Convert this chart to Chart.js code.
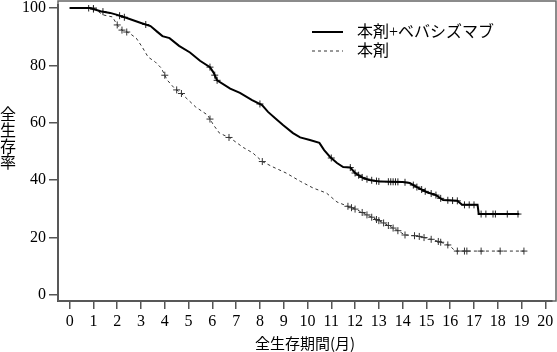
<!DOCTYPE html>
<html lang="ja">
<head>
  <meta charset="UTF-8">
  <title>全生存率</title>
  <style>
    html, body { margin: 0; padding: 0; background: #fff; }
    .chart-container { width: 557px; height: 352px; }
  </style>
</head>
<body>
  <div class="chart-container">
    <canvas id="osChart"></canvas>
  </div>

  <script src="https://cdn.jsdelivr.net/npm/chart.js"></script>
  <script>
    // 本剤+ベバシズマブ (solid)
    const comboMonths = [0, 0.85, 1.3, 1.7, 2.0, 2.4, 3.0, 3.4, 3.7, 3.9, 4.2, 4.6, 5.06, 5.48, 5.9, 6.05, 6.2, 6.75, 7.16, 7.67, 8.09, 8.34, 8.63, 8.97, 9.39, 9.69, 10.1, 10.5, 10.7, 10.95, 11.24, 11.5, 11.8, 12.0, 12.33, 12.6, 13.05, 14.0, 14.3, 14.6, 15.0, 15.4, 15.7, 16.3, 16.5, 17.15, 17.2, 18.9];
    const comboSurv = [100, 100, 98.9, 98.3, 97.6, 96.5, 94.8, 93.7, 91.6, 90.2, 89.5, 86.8, 84.5, 81.6, 79.4, 77.5, 74.8, 71.9, 70.4, 67.9, 66.2, 63.8, 61.7, 59.2, 56.4, 54.9, 54.0, 53.0, 50.5, 48.1, 46.0, 44.6, 44.4, 42.5, 40.8, 40.1, 39.5, 39.4, 39.0, 37.6, 35.9, 34.8, 33.1, 32.8, 31.4, 31.4, 28.2, 28.2];
    const comboCensor = [0.8, 1.0, 1.4, 2.1, 2.3, 3.2, 5.9, 6.1, 6.2, 8.0, 11.0, 11.8, 12.0, 12.15, 12.3, 12.5, 12.7, 12.9, 13.0, 13.4, 13.5, 13.6, 13.7, 13.8, 14.1, 14.45, 14.6, 14.8, 14.95, 15.2, 15.4, 15.6, 15.9, 16.1, 16.3, 16.6, 16.8, 17.0, 17.3, 17.5, 17.8, 17.9, 18.4, 18.85];

    // 本剤 (dashed)
    const monoMonths = [0, 1.0, 1.4, 1.8, 2.0, 2.2, 2.5, 2.8, 3.05, 3.3, 3.6, 3.85, 4.1, 4.4, 4.7, 5.06, 5.3, 5.8, 6.05, 6.3, 6.75, 7.3, 7.7, 8.1, 8.55, 9.1, 9.7, 10.23, 10.8, 11.24, 11.67, 12.1, 12.5, 13.2, 13.76, 14.1, 14.6, 15.3, 15.7, 16.0, 16.2, 19.1];
    const monoSurv = [100, 100, 97.6, 96.9, 94.1, 92.3, 91.3, 89.5, 86.4, 82.9, 81.2, 79.1, 74.9, 72.1, 70.2, 67.4, 65.5, 62.7, 59.2, 56.4, 54.7, 51.4, 49.5, 46.5, 44.6, 42.5, 39.6, 37.3, 35.5, 32.4, 31.0, 29.6, 27.9, 25.1, 22.6, 20.9, 20.6, 19.2, 18.1, 17.1, 15.3, 15.3];
    const monoCensor = [1.0, 2.0, 2.2, 2.4, 4.0, 4.5, 4.7, 5.9, 6.7, 8.1, 11.7, 11.85, 12.0, 12.3, 12.5, 12.7, 12.9, 13.0, 13.2, 13.4, 13.6, 13.8, 14.1, 14.5, 14.7, 14.9, 15.2, 15.5, 15.6, 15.9, 16.3, 16.6, 16.7, 17.3, 18.1, 19.1];

    const xTicks = [0, 1, 2, 3, 4, 5, 6, 7, 8, 9, 10, 11, 12, 13, 14, 15, 16, 17, 18, 19, 20];
    const yTicks = [0, 20, 40, 60, 80, 100];

    const seriesLabels = ['本剤+ベバシズマブ', '本剤'];
    const xTitle = '全生存期間(月)';
    const yTitle = '全生存率';

    const serif = '"Liberation Serif", "Noto Sans CJK JP", serif';
    const gothic = '"Noto Sans CJK JP", sans-serif';

    const toPoints = (xs, ys) => xs.map((x, i) => ({ x: x, y: ys[i] }));

    // survival at time t
    const survAt = (xs, ys, t) => {
      for (let i = 1; i < xs.length; i++) {
        if (t <= xs[i]) {
          const f = (t - xs[i - 1]) / (xs[i] - xs[i - 1]);
          return ys[i - 1] + f * (ys[i] - ys[i - 1]);
        }
      }
      return ys[ys.length - 1];
    };
    const censorPoints = (cens, xs, ys) => cens.map(t => ({ x: t, y: survAt(xs, ys, t) }));

    const frameAndLabels = {
      id: 'frameAndLabels',
      beforeDatasetsDraw(chart) {
        const { ctx, chartArea: a } = chart;
        // box around the plot, reaching the top and right edges like the original
        ctx.save();
        ctx.strokeStyle = '#666';
        ctx.lineWidth = 1.5;
        ctx.strokeRect(a.left, 1, chart.width - 1 - a.left, a.bottom - 1);
        ctx.restore();
      },
      afterDraw(chart) {
        const { ctx } = chart;
        ctx.save();
        // vertical y title
        ctx.fillStyle = '#000';
        ctx.font = '16px ' + gothic;
        ctx.textAlign = 'center';
        ctx.textBaseline = 'middle';
        [...yTitle].forEach((ch, i) => ctx.fillText(ch, 8, 114 + i * 16));

        // legend
        const ds = chart.data.datasets;
        [0, 1].forEach((k, i) => {
          const y = 32 + i * 19;
          ctx.beginPath();
          ctx.strokeStyle = ds[k].borderColor;
          ctx.lineWidth = ds[k].borderWidth;
          ctx.setLineDash(ds[k].borderDash || []);
          ctx.moveTo(312, y);
          ctx.lineTo(343, y);
          ctx.stroke();
          ctx.setLineDash([]);
          ctx.fillStyle = '#000';
          ctx.font = '16px ' + serif;
          ctx.textAlign = 'left';
          ctx.fillText(ds[k].label, 357, y + 1);
        });
        ctx.restore();
      }
    };

    const ctx = document.getElementById('osChart').getContext('2d');

    new Chart(ctx, {
      type: 'line',
      data: {
        datasets: [
          {
            label: seriesLabels[0],
            data: toPoints(comboMonths, comboSurv),
            borderColor: '#000',
            borderWidth: 2,
            pointRadius: 0,
            tension: 0,
            fill: false
          },
          {
            label: seriesLabels[1],
            data: toPoints(monoMonths, monoSurv),
            borderColor: '#333',
            borderWidth: 1,
            borderDash: [3, 3],
            pointRadius: 0,
            tension: 0,
            fill: false
          },
          {
            label: 'censor1',
            type: 'scatter',
            data: censorPoints(comboCensor, comboMonths, comboSurv),
            pointStyle: 'cross',
            pointRadius: 3.5,
            borderColor: '#222',
            borderWidth: 1,
            showLine: false
          },
          {
            label: 'censor2',
            type: 'scatter',
            data: censorPoints(monoCensor, monoMonths, monoSurv),
            pointStyle: 'cross',
            pointRadius: 3.5,
            borderColor: '#333',
            borderWidth: 1,
            showLine: false
          }
        ]
      },
      options: {
        responsive: true,
        maintainAspectRatio: false,
        animation: false,
        layout: { padding: { top: 1, right: 1, left: 0, bottom: 0 } },
        plugins: {
          legend: { display: false },
          tooltip: { enabled: false }
        },
        scales: {
          x: {
            type: 'linear',
            min: -0.49,
            max: 20.28,
            afterBuildTicks: (s) => { s.ticks = xTicks.map(v => ({ value: v })); },
            afterFit: (s) => { s.height = 51; s.paddingLeft = 0; s.paddingRight = 0; },
            grid: { drawOnChartArea: false, drawTicks: true, tickLength: 8, color: '#555', lineWidth: 1.5 },
            border: { display: true, color: '#333', width: 2 },
            ticks: { color: '#000', padding: 3, font: { family: serif, size: 16 }, maxRotation: 0, autoSkip: false },
            title: { display: true, text: xTitle, color: '#000', font: { family: gothic, size: 15 }, padding: { top: 0, bottom: 0 } }
          },
          y: {
            min: -2.1,
            max: 101.05,
            afterBuildTicks: (s) => { s.ticks = yTicks.map(v => ({ value: v })); },
            afterFit: (s) => { s.width = 58; s.paddingTop = 0; s.paddingBottom = 0; },
            grid: { drawOnChartArea: false, drawTicks: true, tickLength: 9, color: '#555', lineWidth: 1.5 },
            border: { display: true, color: '#333', width: 2 },
            ticks: { color: '#000', padding: 3, font: { family: serif, size: 16 } }
          }
        }
      },
      plugins: [frameAndLabels]
    });
  </script>
</body>
</html>
